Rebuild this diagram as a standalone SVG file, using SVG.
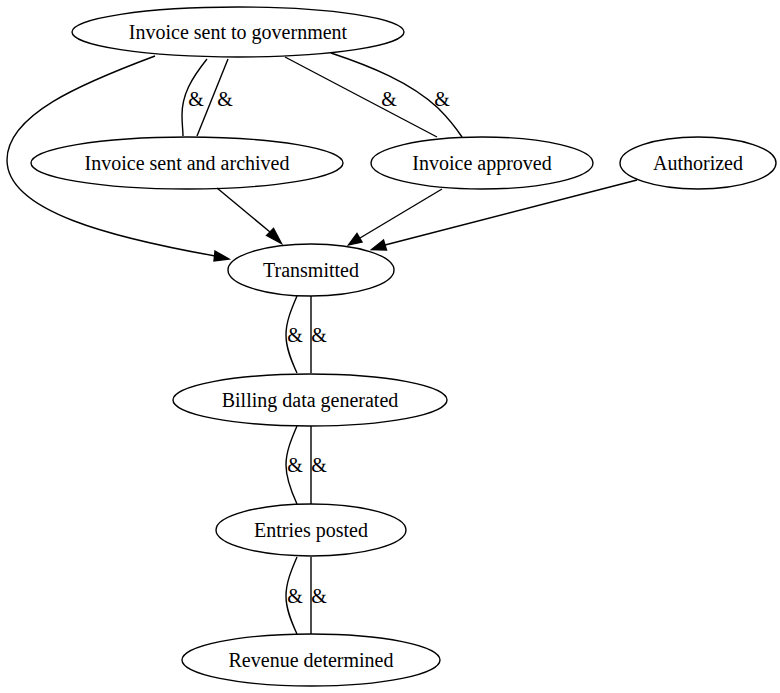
<svg xmlns="http://www.w3.org/2000/svg" width="780" height="693" viewBox="0 0 780 693">
<defs>
<style>
.n ellipse{fill:none;stroke:#000;stroke-width:1.4}
text{font-family:"Liberation Serif","Times New Roman",serif;font-size:20px;fill:#000;text-anchor:middle}
.e path{fill:none;stroke:#000;stroke-width:1.4}
.e polygon{fill:#000;stroke:#000;stroke-width:1.4}
</style>
</defs>
<rect width="780" height="693" fill="#fff"/>
<g class="e" id="edges">
<path d="M155,56 C80,84 7,115 7,160 C7,212 115,238 215,256"/>
<polygon points="215,251 229,259 214,261"/>
<path d="M217,188 L270,232"/>
<polygon points="266.5,235.5 281.5,243.5 273.5,228.5"/>
<path d="M442,189 L360,238"/>
<polygon points="357,233.5 348.5,245 362,242"/>
<path d="M637,180 L385,245"/>
<polygon points="383.5,240 371.5,249.5 386.5,250"/>
<path d="M207,59 C191,79 182,95 182,115 C182,125 183,130 183,136"/>
<path d="M228,59 L197,136"/>
<path d="M285,57 L437,137"/>
<path d="M331,53 C370,66 410,82 438,108 C449,119 456,128 462,137"/>
<path d="M297,296 C291,310 286,322 286,335 C286,348 291,360 297,373"/>
<path d="M311,296 L311,373"/>
<path d="M297,426 C291,440 286,452 286,465 C286,478 291,491 297,504"/>
<path d="M311,426 L311,504"/>
<path d="M297,557 C291,571 286,583 286,596 C286,609 291,621 297,634"/>
<path d="M311,557 L311,634"/>
<text x="196" y="106">&amp;</text>
<text x="225" y="106">&amp;</text>
<text x="389" y="106">&amp;</text>
<text x="442" y="106">&amp;</text>
<text x="295" y="342">&amp;</text>
<text x="319" y="342">&amp;</text>
<text x="295" y="472">&amp;</text>
<text x="319" y="472">&amp;</text>
<text x="295" y="603">&amp;</text>
<text x="319" y="603">&amp;</text>
</g>
<g class="n" id="gov"><ellipse cx="238" cy="32" rx="166" ry="25"/><text x="238" y="39">Invoice sent to government</text></g>
<g class="n" id="archived"><ellipse cx="187" cy="163" rx="156" ry="26"/><text x="187" y="170">Invoice sent and archived</text></g>
<g class="n" id="approved"><ellipse cx="482" cy="163" rx="111" ry="26"/><text x="482" y="170">Invoice approved</text></g>
<g class="n" id="authorized"><ellipse cx="698" cy="163" rx="78" ry="26"/><text x="698" y="170">Authorized</text></g>
<g class="n" id="transmitted"><ellipse cx="311" cy="270" rx="83" ry="26"/><text x="311" y="277">Transmitted</text></g>
<g class="n" id="billing"><ellipse cx="310" cy="400" rx="137" ry="26"/><text x="310" y="407">Billing data generated</text></g>
<g class="n" id="entries"><ellipse cx="311" cy="530" rx="95" ry="26"/><text x="311" y="537">Entries posted</text></g>
<g class="n" id="revenue"><ellipse cx="311" cy="660" rx="129" ry="26"/><text x="311" y="667">Revenue determined</text></g>
</svg>
